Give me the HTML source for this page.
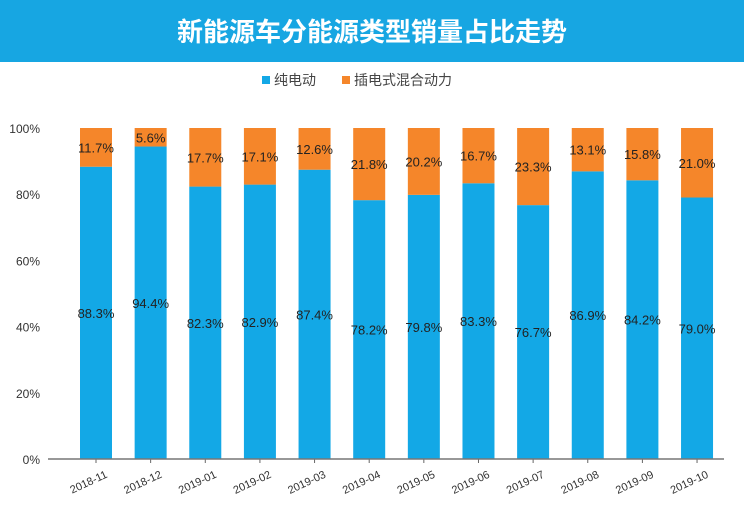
<!DOCTYPE html>
<html><head><meta charset="utf-8"><style>
body{margin:0;background:#fff;}
svg{display:block;font-family:"Liberation Sans","Noto Sans CJK SC",sans-serif;}
</style></head><body>
<svg id="c" width="744" height="528">
<rect x="0" y="0" width="744" height="62" fill="#17a6e2"/>
<text x="372" y="41" text-anchor="middle" font-size="26" font-weight="bold" fill="#fff" font-family="Noto Sans CJK SC, sans-serif">新能源车分能源类型销量占比走势</text>
<g>
<rect x="262" y="76" width="8" height="8" fill="#13a8e6"/>
<text x="274" y="85" font-size="14" fill="#444">纯电动</text>
<rect x="342" y="76" width="8" height="8" fill="#f5862a"/>
<text x="354" y="85" font-size="14" fill="#444">插电式混合动力</text>
</g>
<g id="plot"></g>
</svg>
<script>
const categories=["2018-11","2018-12","2019-01","2019-02","2019-03","2019-04","2019-05","2019-06","2019-07","2019-08","2019-09","2019-10"];
const bevValues=[88.3,94.4,82.3,82.9,87.4,78.2,79.8,83.3,76.7,86.9,84.2,79.0];
const phevValues=[11.7,5.6,17.7,17.1,12.6,21.8,20.2,16.7,23.3,13.1,15.8,21.0];
const yTicks=[0,20,40,60,80,100];
const NS="http://www.w3.org/2000/svg";
const g=document.getElementById("plot");
const y0=459,y1=128;
function y(v){return y0-(v/100)*(y0-y1);}
function x(i){return 96+i*54.64;}
const bw=32;
function mk(tag,attrs,txt){const e=document.createElementNS(NS,tag);for(const k in attrs)e.setAttribute(k,attrs[k]);if(txt!=null)e.textContent=txt;g.appendChild(e);return e;}
yTicks.forEach(t=>{
 const e=mk("text",{x:40,y:y(t)+5,"text-anchor":"end","font-size":"12",fill:"#333"},t+"%");
 
 
});
categories.forEach((c,i)=>{
 const cx=x(i);
 const b=bevValues[i],p=phevValues[i];
 const r1=mk("rect",{x:cx-bw/2,y:y(b),width:bw,height:y0-y(b),fill:"#13a8e6"});
 
 
 const r2=mk("rect",{x:cx-bw/2,y:y(b+p),width:bw,height:y(b)-y(b+p),fill:"#f5862a"});
 
 
 const l1=mk("text",{x:cx,y:y(b/2)+5,"text-anchor":"middle","font-size":"13",fill:"#222"},b.toFixed(1)+"%");
 
 
 const l2=mk("text",{x:cx,y:y(b+p/2)+5,"text-anchor":"middle","font-size":"13",fill:"#222"},p.toFixed(1)+"%");
 
 
 const tk=mk("line",{x1:cx,x2:cx,y1:y0,y2:y0+4,stroke:"#666"});
 
 
 const xl=mk("text",{x:cx+12,y:y0+18,"text-anchor":"end","font-size":"11",fill:"#333",transform:"rotate(-25 "+(cx+12)+" "+(y0+18)+")"},c);
 
 
});
const ax=mk("line",{x1:48,x2:724,y1:y0,y2:y0,stroke:"#777","stroke-width":"1.5"});


</script>
</body></html>
